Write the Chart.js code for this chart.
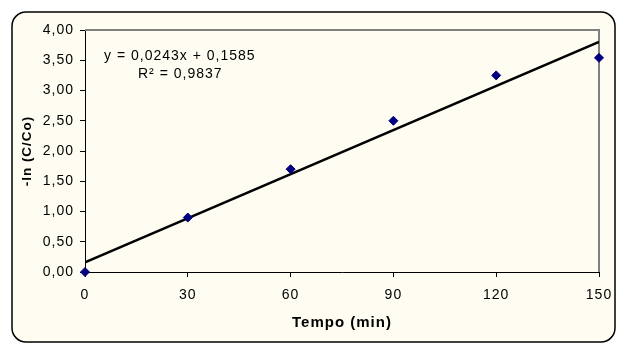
<!DOCTYPE html>
<html>
<head>
<meta charset="utf-8">
<script src="https://cdn.jsdelivr.net/npm/chart.js@4"></script>
<style>
  html, body { margin: 0; padding: 0; background: #fff; }
  canvas { display: block; }
</style>
</head>
<body>
<canvas id="myChart" width="617" height="343"></canvas>
<script>
// ------------------ DATA ------------------ //
const times = [0, 30, 60, 90, 120, 150];
const lnValues = [0, 0.90, 1.70, 2.50, 3.25, 3.54];
const xTicks = [0, 30, 60, 90, 120, 150];
const yTicks = [0, 0.5, 1, 1.5, 2, 2.5, 3, 3.5, 4];

// linear trendline
const slope = 0.0243;
const intercept = 0.1585;
const rSquared = 0.9837;

const fontFamily = "'Liberation Sans', Arial, sans-serif";
const cream = "#fffdf2";

const comma = (v, d) => v.toFixed(d).replace(".", ",");

// ------------------ PLUGINS ------------------ //
const frame = {
  id: "frame",
  beforeDraw(chart) {
    const c = chart.ctx;
    c.save();
    c.fillStyle = "#fff";
    c.fillRect(0, 0, chart.width, chart.height);
    c.beginPath();
    c.roundRect(12, 12, 603, 330, 14);
    c.fillStyle = cream;
    c.fill();
    c.lineWidth = 1.5;
    c.strokeStyle = "#000";
    c.stroke();
    c.restore();
    // wide text, the same for every label
    c.letterSpacing = "1px";
  },
  beforeDatasetsDraw(chart) {
    const { left, right, top, bottom } = chart.chartArea;
    const c = chart.ctx;
    c.save();
    c.strokeStyle = "#808080";
    c.lineWidth = 2;
    c.beginPath();
    c.moveTo(left, top);
    c.lineTo(right, top);
    c.lineTo(right, bottom);
    c.stroke();
    c.restore();
  },
  afterDraw(chart) {
    const c = chart.ctx;
    c.save();
    c.fillStyle = "#000";
    c.font = "14px " + fontFamily;
    c.letterSpacing = "1px";
    c.textBaseline = "alphabetic";
    c.textAlign = "left";
    c.fillText("y = " + comma(slope, 4) + "x + " + comma(intercept, 4), 104, 60);
    c.fillText("R² = " + comma(rSquared, 4), 138, 78);
    c.restore();
  }
};

// ------------------ CHART ------------------ //
const ctx = document.getElementById("myChart").getContext("2d");
const lastX = times[times.length - 1];

new Chart(ctx, {
  type: "scatter",
  data: {
    datasets: [{
      label: "-ln (C/Co)",
      data: times.map((t, i) => ({ x: t, y: lnValues[i] })),
      pointStyle: "rectRot",
      pointRadius: 4.5,
      pointBorderWidth: 1,
      backgroundColor: "#000080",
      borderColor: "#000080",
      clip: false
    }, {
      label: "trend",
      data: [{ x: 0, y: intercept }, { x: lastX, y: intercept + slope * lastX }],
      showLine: true,
      borderColor: "#000",
      borderWidth: 2.5,
      pointRadius: 0
    }]
  },
  options: {
    responsive: false,
    devicePixelRatio: 1,
    animation: false,
    layout: { padding: { left: 12, top: 30, right: 18, bottom: 0 } },
    plugins: {
      legend: { display: false },
      tooltip: { enabled: false }
    },
    scales: {
      x: {
        type: "linear",
        min: xTicks[0],
        max: xTicks[xTicks.length - 1],
        afterBuildTicks: s => { s.ticks = xTicks.map(v => ({ value: v })); },
        afterFit: s => {
          s.height = 71;
          s.paddingLeft = 0;
          s.paddingRight = 0;
        },
        ticks: {
          color: "#000",
          padding: 10,
          font: { family: fontFamily, size: 14 }
        },
        grid: { drawOnChartArea: false, tickLength: 5, color: "#000" },
        border: { color: "#000", width: 1 },
        title: {
          display: true,
          text: "Tempo (min)",
          color: "#000",
          font: { family: fontFamily, size: 15, weight: "bold" },
          padding: { top: 0, bottom: 11 }
        }
      },
      y: {
        min: yTicks[0],
        max: yTicks[yTicks.length - 1],
        afterBuildTicks: s => { s.ticks = yTicks.map(v => ({ value: v })); },
        afterFit: s => {
          s.width = 73;
          s.paddingTop = 0;
          s.paddingBottom = 0;
        },
        ticks: {
          color: "#000",
          padding: 6,
          font: { family: fontFamily, size: 14 },
          callback: v => comma(v, 2)
        },
        grid: { drawOnChartArea: false, tickLength: 5, color: "#000" },
        border: { color: "#000", width: 1 },
        title: {
          display: true,
          text: "-ln (C/Co)",
          color: "#000",
          font: { family: fontFamily, size: 13.5, weight: "bold" },
          padding: { top: 7, bottom: 0 }
        }
      }
    }
  },
  plugins: [frame]
});
</script>
</body>
</html>
